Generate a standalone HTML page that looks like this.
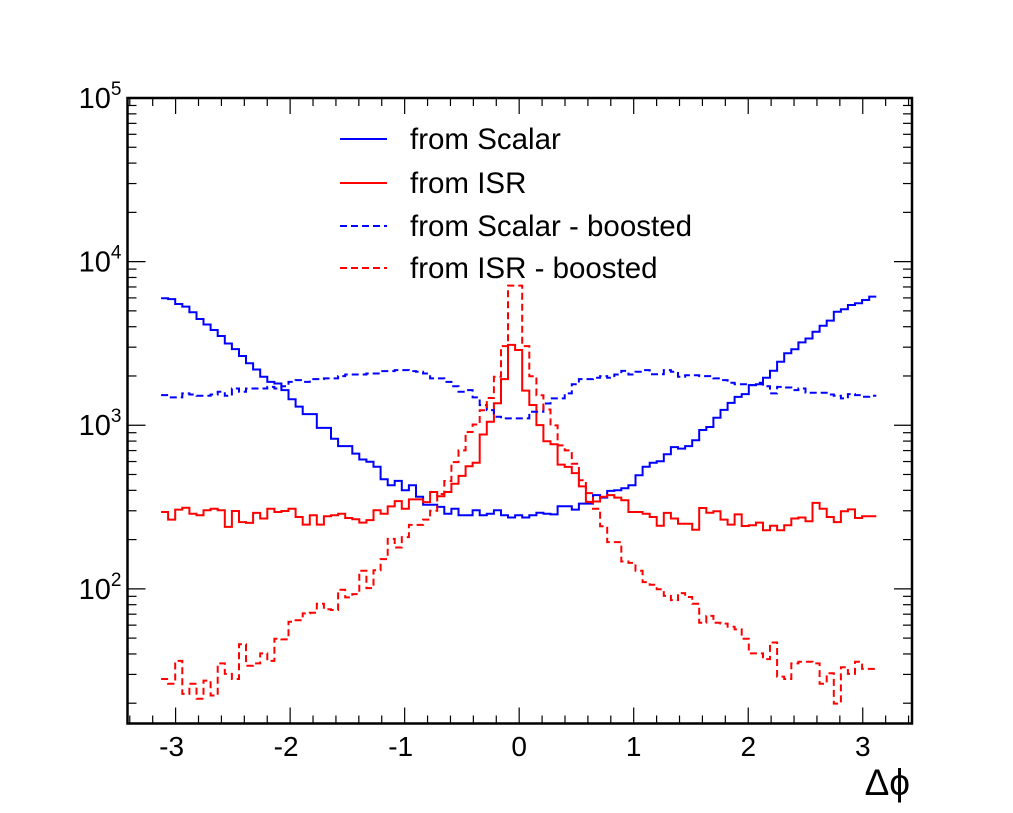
<!DOCTYPE html>
<html><head><meta charset="utf-8"><style>
html,body{margin:0;padding:0;background:#fff;}
svg{display:block;font-family:"Liberation Sans","DejaVu Sans",sans-serif;}
</style></head><body>
<svg id="chart" width="1013" height="813" viewBox="0 0 1013 813" xmlns="http://www.w3.org/2000/svg">
<rect x="0" y="0" width="1013" height="813" fill="#fff"/>
<g id="ticks"></g>
<g id="series"></g>
<rect x="127.5" y="98" width="784.5" height="625.5" fill="none" stroke="#000" stroke-width="2.5"/>
<g id="labels"></g>
<text x="910" y="795" font-size="37" text-anchor="end">Δϕ</text>
<g font-size="29.5">
  <g><line x1="340" y1="139" x2="387" y2="139" stroke="#00f" stroke-width="2"/><text x="410" y="149">from Scalar</text></g>
  <g><line x1="340" y1="183" x2="387" y2="183" stroke="#f00" stroke-width="2"/><text x="410" y="193">from ISR</text></g>
  <g><line x1="340" y1="226" x2="387" y2="226" stroke="#00f" stroke-width="2" stroke-dasharray="7,4"/><text x="410" y="236">from Scalar - boosted</text></g>
  <g><line x1="340" y1="268" x2="387" y2="268" stroke="#f00" stroke-width="2" stroke-dasharray="7,4"/><text x="410" y="278">from ISR - boosted</text></g>
</g>
</svg>
<script>
const binLow = -3.127, binHigh = 3.118, nBins = 101;
const xTicks = [-3,-2,-1,0,1,2,3];
const yDecades = [2,3,4,5];
const scalar = [5970,5900,5510,5310,4900,4460,4130,3820,3510,3160,2920,2650,2390,2190,1980,1840,1800,1640,1440,1300,1170,1170,963,963,827,746,746,671,617,598,557,467,430,457,401,430,365,327,327,317,288,309,282,282,302,282,288,302,282,273,
282,273,282,292,288,285,320,320,305,332,332,374,361,397,401,412,430,495,557,590,602,664,735,720,746,810,935,975,1110,1240,1370,1490,1550,1760,1780,1950,2150,2440,2750,2910,3210,3390,3730,4060,4360,4940,5110,5430,5560,5830,6110];
const isr = [295,265,305,313,288,282,302,309,302,239,299,256,253,291,269,309,295,299,309,275,247,282,247,278,282,288,271,266,254,263,302,288,319,344,309,352,352,339,391,368,
391,439,490,561,589,878,1050,1362,1915,3096,2882,1627,1329,1002,799,766,575,556,510,423,340,
342,365,374,361,348,295,295,288,275,243,291,269,250,250,230,312,292,298,265,247,285,242,245,254,228,243,228,245,269,273,259,335,309,275,256,298,306,271,278,278];
const scalarBoosted = [1528,1479,1479,1566,1542,1514,1514,1542,1603,1514,1678,1603,1678,1678,1678,1716,1678,1732,1840,1886,1840,1914,1914,1932,1932,1996,2042,2042,2042,2071,2071,2142,2142,2172,2172,2142,2122,2071,1932,1932,1840,1732,1603,1640,1479,1328,1237,1127,1101,1101,
1101,1101,1209,1209,1358,1459,1459,1566,1780,1914,1914,1952,1996,1952,2042,2148,2042,2122,2172,2052,2052,2172,2122,1979,2020,2020,1996,1996,1932,1886,1816,1780,1780,1760,1816,1732,1566,1716,1700,1640,1678,1580,1580,1580,1542,1514,1459,1549,1528,1491,1514];
const isrBoosted = [28.1,26.3,36.3,22.8,26.3,21.3,27.5,22.3,35.0,30.2,28.1,45.9,33.9,35.0,40.3,36.3,49.6,49.1,63.0,64.2,70.8,71.5,81.1,75.0,74.3,98.6,88.6,92.9,129,101,130,152,202,179,207,246,246,265,300,380,
456,595,702,909,1011,1233,1467,1976,3044,7135,7135,3044,1995,1527,1248,998,753,702,581,461,385,309,
241,193,193,147,144,129,110,106,99.5,90.6,85.3,94.2,89.1,81.1,62.1,68.3,62.1,61.3,58.7,56.5,49.6,40.3,40.3,37.2,47.0,29.1,28.1,35.0,35.8,35.8,35.0,26.3,30.5,19.9,33.2,30.2,35.8,32.4,32.4];

const NS='http://www.w3.org/2000/svg';
const X0=127.5, X1=912, Y0=98, Y1=723.5;
const xMin=-3.42, xMax=3.43, logMin=1.177, logMax=5;
function xs(v){return X0+(v-xMin)/(xMax-xMin)*(X1-X0);}
function ys(v){return Y1-(Math.log10(v)-logMin)/(logMax-logMin)*(Y1-Y0);}
function mk(tag,attrs,parent){const e=document.createElementNS(NS,tag);for(const k in attrs)e.setAttribute(k,attrs[k]);parent.appendChild(e);return e;}

const tg=document.getElementById('ticks');
for(let v=-3.4;v<=3.41;v+=0.2){
  const r=Math.round(v*10)/10; const major=Math.abs(r-Math.round(r))<1e-6;
  const L=major?16:8; const x=xs(r);
  if(x<X0||x>X1)continue;
  const t1=mk('line',{x1:x,y1:Y1,x2:x,y2:Y1-L,stroke:'#000','stroke-width':1.2},tg);
  
  
  const t2=mk('line',{x1:x,y1:Y0,x2:x,y2:Y0+L,stroke:'#000','stroke-width':1.2},tg);
  
  
}
for(let d=1;d<=4;d++){
  for(let m=1;m<=9;m++){
    const v=m*Math.pow(10,d); if(Math.log10(v)<logMin)continue;
    const L=m===1?18:9; const y=ys(v);
    const a=mk('line',{x1:X0,y1:y,x2:X0+L,y2:y,stroke:'#000','stroke-width':1.2},tg);
    
    
    const b=mk('line',{x1:X1,y1:y,x2:X1-L,y2:y,stroke:'#000','stroke-width':1.2},tg);
    
    
  }
}
const lg=document.getElementById('labels');
xTicks.forEach(v=>{
  const t=mk('text',{x:xs(v)-(v<0?4:0),y:756,'font-size':28,'text-anchor':'middle'},lg);
  t.textContent=String(v);
  
  
});
yDecades.forEach(d=>{
  const y=ys(Math.pow(10,d));
  const t=mk('text',{x:100,y:y+10,'font-size':29,'text-anchor':'middle'},lg);
  
  
  const base=document.createElementNS(NS,'tspan');base.textContent='10';t.appendChild(base);
  const sup=document.createElementNS(NS,'tspan');sup.setAttribute('dy','-13');sup.setAttribute('font-size','19');sup.textContent=String(d);t.appendChild(sup);
});

const sg=document.getElementById('series');
function hist(vals,color,dash,name){
  const w=(binHigh-binLow)/nBins; let d='';
  vals.forEach((v,i)=>{
    const xa=xs(binLow+i*w), xb=xs(binLow+(i+1)*w), y=ys(v);
    d+=(i===0?'M':'L')+xa.toFixed(1)+','+y.toFixed(1)+'L'+xb.toFixed(1)+','+y.toFixed(1);
  });
  const p=mk('path',{d:d,fill:'none',stroke:color,'stroke-width':2},sg);
  if(dash)p.setAttribute('stroke-dasharray','7,4');
  
  
}
hist(scalar,'#00f',false,'series-from-scalar');
hist(isr,'#f00',false,'series-from-isr');
hist(scalarBoosted,'#00f',true,'series-from-scalar-boosted');
hist(isrBoosted,'#f00',true,'series-from-isr-boosted');
</script>
</body></html>
